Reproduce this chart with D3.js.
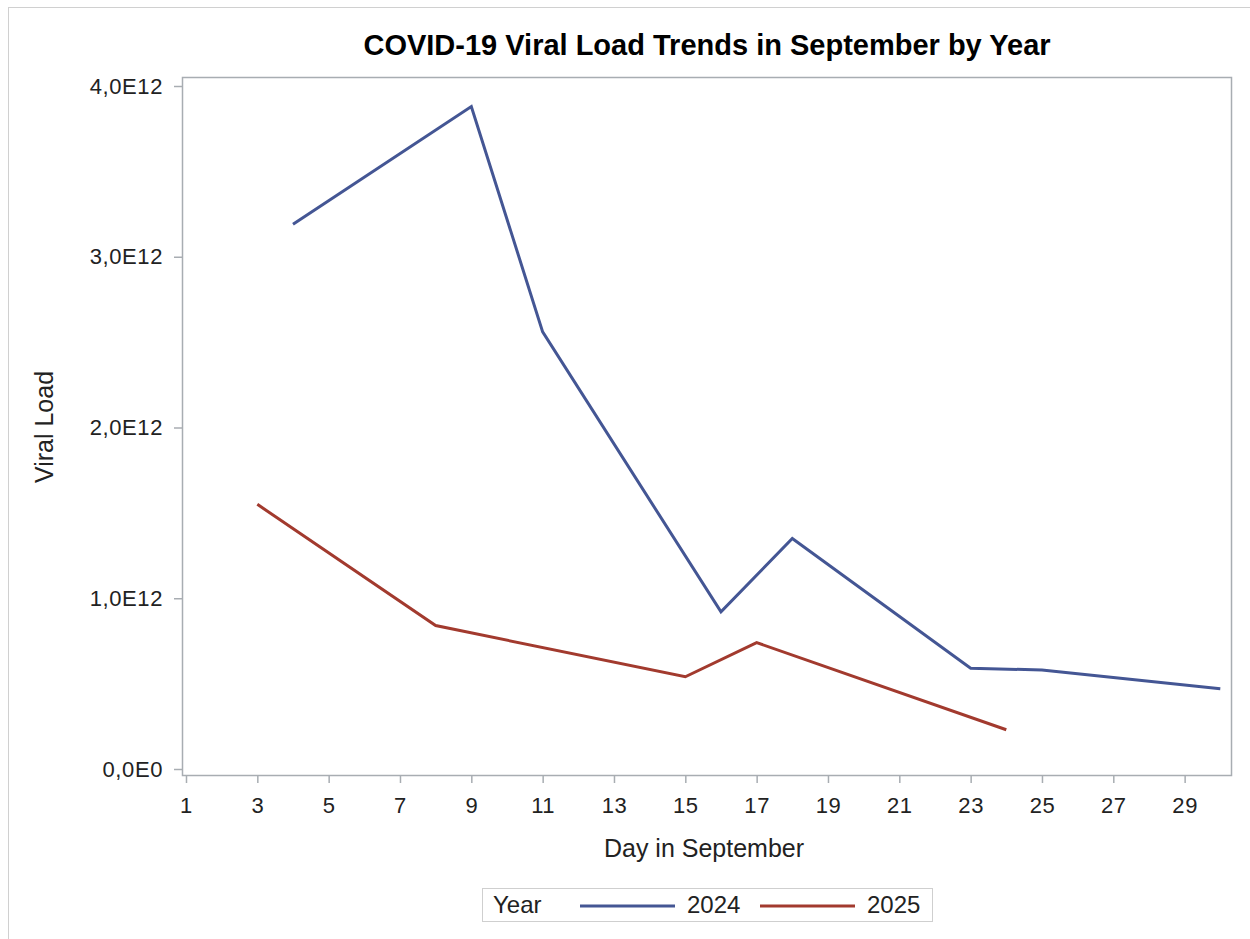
<!DOCTYPE html>
<html>
<head>
<meta charset="utf-8">
<script src="https://cdn.jsdelivr.net/npm/d3@7"></script>
<style>
  body { margin: 0; background: #fff; }
  svg { display: block; font-family: "Liberation Sans", Arial, sans-serif; }
</style>
</head>
<body>
<svg id="chart" width="1250" height="939"></svg>
<script>
// values
const days2024 = [4, 9, 11, 16, 18, 23, 25, 30];
const load2024 = [3.19e12, 3.88e12, 2.56e12, 0.92e12, 1.35e12, 0.59e12, 0.58e12, 0.47e12];
const days2025 = [3, 8, 15, 17, 24];
const load2025 = [1.55e12, 0.84e12, 0.54e12, 0.74e12, 0.23e12];
const xTicks = d3.range(1, 30, 2);
const yTicks = [0, 1e12, 2e12, 3e12, 4e12];
const years = ['2024', '2025'];
const colors = ['#445694', '#a23a2e'];

const svg = d3.select('#chart');
const frame = {left: 182, top: 77, right: 1231, bottom: 775};
const axisColor = '#a8adb2';
const textColor = '#222';

const x = d3.scaleLinear().domain([0.888, 30.3]).range([frame.left, frame.right]);
const y = d3.scaleLinear().domain([0, 4e12]).range([769, 86]);

// outer border (only top/left visible in the reference)
svg.append('rect').attr('x', 8.5).attr('y', 7.5).attr('width', 1300).attr('height', 1000)
    .style('fill', 'none').style('stroke', '#d0d0d0');

svg.append('text').attr('x', 707).attr('y', 55)
    .attr('text-anchor', 'middle')
    .style('font-size', '29px').style('font-weight', 'bold').style('fill', '#000')
    .text('COVID-19 Viral Load Trends in September by Year');

// plot frame
svg.append('rect').attr('x', frame.left + 0.5).attr('y', frame.top + 0.5)
    .attr('width', frame.right - frame.left).attr('height', frame.bottom - frame.top)
    .style('fill', 'none').style('stroke', axisColor).style('stroke-width', 1.5);

const fmt = d => {
  if (d === 0) return '0,0E0';
  const e = Math.floor(Math.log10(d));
  return (d / Math.pow(10, e)).toFixed(1).replace('.', ',') + 'E' + e;
};

const yAxis = svg.append('g').attr('transform', `translate(${frame.left},0)`)
    .call(d3.axisLeft(y).tickValues(yTicks).tickFormat(fmt).tickSize(8).tickPadding(11));
const xAxis = svg.append('g').attr('transform', `translate(0,${frame.bottom})`)
    .call(d3.axisBottom(x).tickValues(xTicks).tickFormat(d3.format('d')).tickSize(8).tickPadding(14));
[xAxis, yAxis].forEach(g => {
  g.select('.domain').remove();
  g.selectAll('.tick line').style('stroke', axisColor).style('stroke-width', 1.5);
  g.selectAll('.tick text').style('font-size', '22px').style('fill', textColor)
      .style('letter-spacing', '0.6px')
      .style('font-family', '"Liberation Sans", Arial, sans-serif');
});

svg.append('text').attr('x', 704).attr('y', 857).attr('text-anchor', 'middle')
    .style('font-size', '25px').style('fill', textColor).text('Day in September');
svg.append('text').attr('transform', 'translate(53,427) rotate(-90)')
    .attr('text-anchor', 'middle')
    .style('font-size', '25px').style('fill', textColor).text('Viral Load');

const line = d3.line().x(d => x(d[0])).y(d => y(d[1]));
const series = [d3.zip(days2024, load2024), d3.zip(days2025, load2025)];
svg.selectAll('path.series').data(series).join('path')
    .attr('class', 'series')
    .attr('d', line)
    .style('fill', 'none')
    .style('stroke', (d, i) => colors[i])
    .style('stroke-width', 3)
    .style('stroke-linejoin', 'miter');

// legend
const lg = svg.append('g');
lg.append('rect').attr('x', 482.5).attr('y', 888.5).attr('width', 450).attr('height', 33)
    .style('fill', '#fff').style('stroke', '#cfcfcf');
lg.append('text').attr('x', 493).attr('y', 913).style('font-size', '24px').style('fill', textColor).text('Year');
const lx = [580, 760];
years.forEach((yr, i) => {
  lg.append('line').attr('x1', lx[i]).attr('x2', lx[i] + 95).attr('y1', 906).attr('y2', 906)
      .style('stroke', colors[i]).style('stroke-width', 3);
  lg.append('text').attr('x', lx[i] + 107).attr('y', 913)
      .style('font-size', '24px').style('fill', textColor).text(yr);
});
</script>
</body>
</html>
